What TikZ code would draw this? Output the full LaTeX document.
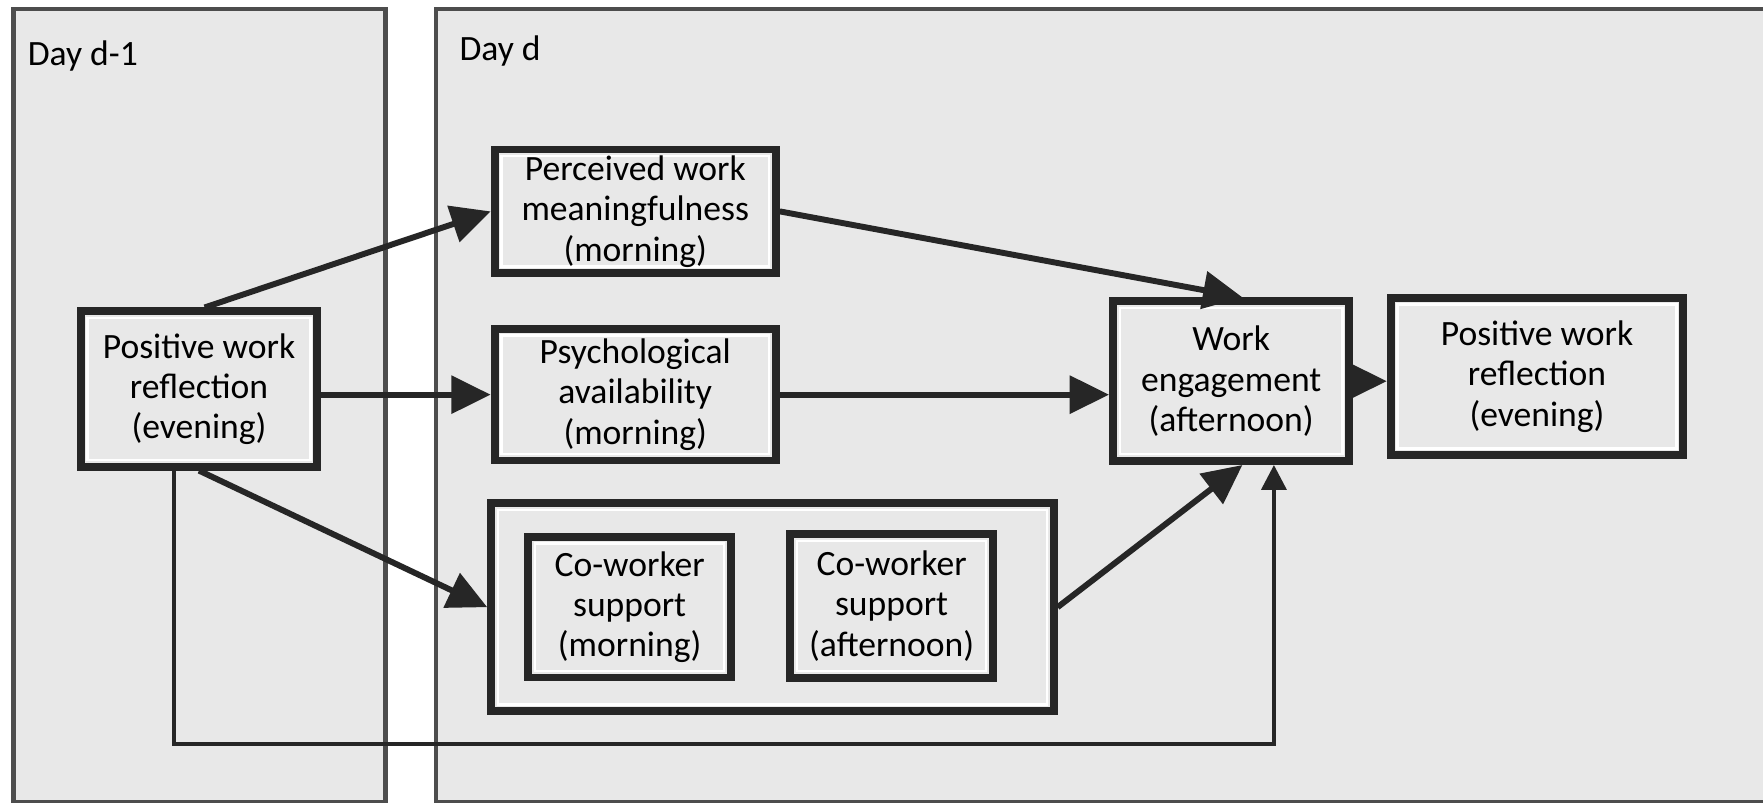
\documentclass[tikz,border=0pt]{standalone}
\usepackage{fontspec}
\setmainfont{Carlito}
\usetikzlibrary{arrows.meta,calc}
\definecolor{panelgray}{HTML}{E8E8E8}
\definecolor{paneledge}{HTML}{4D4D4D}
\definecolor{ink}{HTML}{262626}
\begin{document}
\begin{tikzpicture}[x=0.01cm,y=-0.01cm,
  panel/.style={draw=paneledge, line width=1.1pt, fill=panelgray},
  box/.style={draw=ink, line width=2pt, fill=panelgray, align=center, inner sep=0pt,
    font=\fontsize{9}{10.2}\selectfont,
    path picture={\draw[white,line width=0.6pt]
      ([shift={(0.06cm,-0.06cm)}]path picture bounding box.north west) rectangle
      ([shift={(-0.06cm,0.06cm)}]path picture bounding box.south east);}},
  daylabel/.style={anchor=west, inner sep=0pt, font=\fontsize{9}{10.2}\selectfont},
  arr/.style={draw=ink, line width=1.5pt, -{Triangle[length=0.35cm,width=0.33cm]}},
  arrthin/.style={draw=ink, line width=1pt, -{Triangle[length=0.22cm,width=0.22cm]}}]
\useasboundingbox (0,0) rectangle (1568,714);
\fill[white] (0,0) rectangle (1568,714);
% panels
\draw[panel] (12,8) rectangle (343,713);
\draw[panel] (388,8) rectangle (1600,713);
\node[daylabel] (dprev) at (24,50) {Day d-1};
\node[daylabel] (dcur) at (408,45) {Day d};
% boxes
\node[box, minimum width=2.10cm, minimum height=1.38cm] (pL) at (177,346) {Positive work\\reflection\\(evening)};
\node[box, minimum width=2.50cm, minimum height=1.10cm] (pwm) at (565,188) {Perceived work\\meaningfulness\\(morning)};
\node[box, minimum width=2.50cm, minimum height=1.17cm] (psy) at (565,351) {Psychological\\availability\\(morning)};
\node[box, minimum width=5.00cm, minimum height=1.85cm] (cwo) at (687,540) {};
\node[box, minimum width=1.80cm, minimum height=1.25cm] (cwm) at (560,540) {Co-worker\\support\\(morning)};
\node[box, minimum width=1.80cm, minimum height=1.28cm] (cwa) at (793,539) {Co-worker\\support\\(afternoon)};
\node[box, minimum width=2.10cm, minimum height=1.42cm] (we) at (1095,339) {Work\\engagement\\(afternoon)};
\node[box, minimum width=2.60cm, minimum height=1.40cm] (pR) at (1367,335) {Positive work\\reflection\\(evening)};
% connectors
\draw[arr] ([xshift=0.05cm]pL.north) -- (pwm.west);
\draw[arr] (psy.west -| pL.east) -- (psy.west);
\draw[arr] (pL.south) -- (cwo.west);
\draw[arr] (pwm.east) -- ([xshift=0.1cm]we.north);
\draw[arr] (psy.east) -- (psy.east -| we.west);
\draw[arr] (cwo.east) -- ([xshift=0.1cm]we.south);
\draw[arr] (we.east) -- (we.east -| pR.west);
\coordinate (ls) at ([xshift=-0.22cm]pL.south);
\coordinate (le) at ([xshift=0.38cm]we.south);
\coordinate (lb) at (0,662);
\draw[arrthin] (ls) -- (ls |- lb) -| (le);
\end{tikzpicture}
\end{document}
